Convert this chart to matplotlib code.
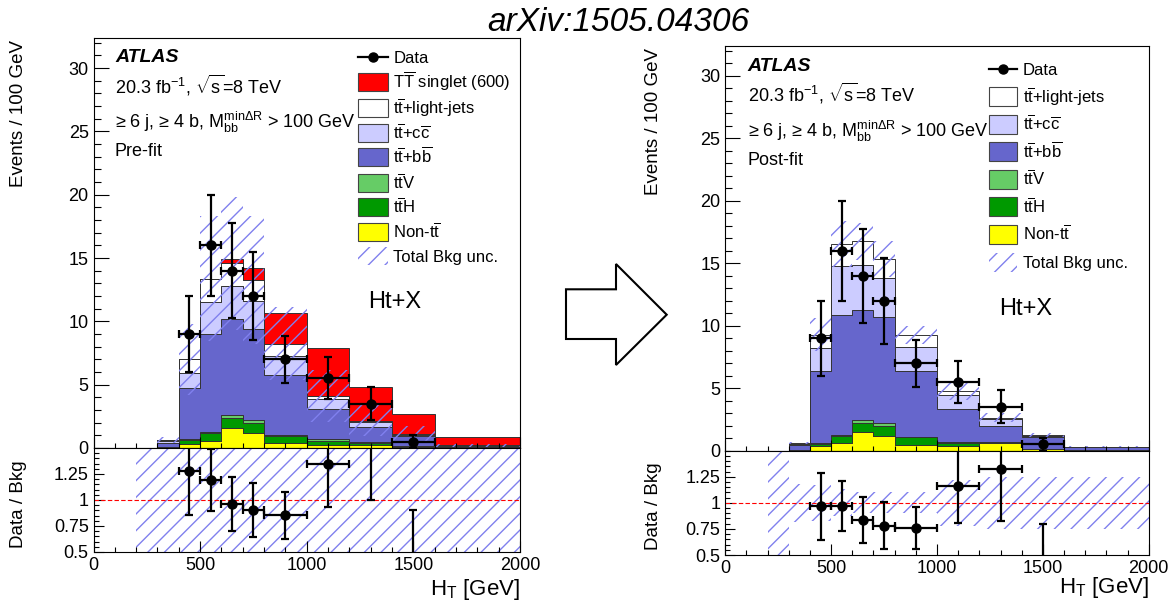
import numpy as np
import matplotlib.pyplot as plt
from matplotlib.patches import Rectangle, Polygon
from matplotlib.lines import Line2D
from matplotlib.ticker import MultipleLocator, FixedLocator, FixedFormatter

plt.rcParams['font.family'] = ['Liberation Sans', 'DejaVu Sans']
plt.rcParams['mathtext.fontset'] = 'custom'
plt.rcParams['mathtext.rm'] = 'Liberation Sans'
plt.rcParams['mathtext.it'] = 'Liberation Sans:italic'
plt.rcParams['mathtext.bf'] = 'Liberation Sans:bold'
plt.rcParams['hatch.linewidth'] = 1.0

W, H = 1168, 606

# H_T bin edges (GeV)
edges = [200, 300, 400, 500, 600, 700, 800, 1000, 1200, 1400, 1600, 1800, 2000]

# pre-fit stack, events / 100 GeV
pre_nontt = [0, 0.02, 0.34, 0.58, 1.59, 1.19, 0.40, 0.27, 0.21, 0.08, 0.02, 0.02]
pre_tth = [0, 0.02, 0.32, 0.61, 0.74, 0.80, 0.53, 0.31, 0.19, 0.05, 0.02, 0.02]
pre_ttv = [0, 0.01, 0.08, 0.08, 0.24, 0.21, 0.13, 0.16, 0.08, 0.02, 0.01, 0.01]
pre_ttbb = [0, 0.37, 3.98, 7.74, 7.63, 7.16, 4.72, 2.31, 1.16, 0.78, 0.12, 0.12]
pre_ttcc = [0, 0.10, 1.19, 2.52, 2.57, 2.24, 1.51, 0.79, 0.43, 0.13, 0.02, 0.02]
pre_ttlight = [0, 0.08, 1.11, 1.85, 1.81, 1.70, 0.93, 0.26, 0.10, 0.05, 0.01, 0.01]
pre_signal = [0, 0, 0, 0, 0.32, 0.88, 2.45, 3.80, 2.65, 1.54, 0.65, 0.65]
pre_unc = [0, 0.4, 0.4, 0.37, 0.36, 0.38, 0.35, 0.5, 0.55, 0.6, 0.6, 0.6]
pre_ratio_unc = [0.6, 0.6, 0.6, 0.6, 0.6, 0.6, 0.6, 0.6, 0.6, 0.6, 0.6, 0.6]

# post-fit stack
post_nontt = [0, 0.05, 0.38, 0.59, 1.53, 1.21, 0.46, 0.38, 0.59, 0.10, 0.03, 0.03]
post_tth = [0, 0.03, 0.13, 0.59, 0.72, 0.77, 0.61, 0.21, 0.08, 0.04, 0.02, 0.02]
post_ttv = [0, 0.01, 0.08, 0.08, 0.22, 0.22, 0.06, 0.13, 0.03, 0.02, 0.01, 0.01]
post_ttbb = [0, 0.37, 5.82, 9.60, 8.79, 8.52, 5.28, 2.63, 1.28, 0.91, 0.21, 0.21]
post_ttcc = [0, 0.10, 1.82, 3.89, 3.64, 3.14, 1.90, 1.07, 0.54, 0.11, 0.03, 0.03]
post_ttlight = [0, 0.08, 1.07, 1.79, 1.86, 1.48, 0.94, 0.33, 0.13, 0.08, 0.02, 0.02]
post_unc = [0, 0.15, 0.14, 0.11, 0.09, 0.095, 0.08, 0.14, 0.14, 0.12, 0.12, 0.12]
post_ratio_unc = [0.6, 0.18, 0.17, 0.13, 0.1, 0.1, 0.1, 0.22, 0.25, 0.25, 0.25, 0.25]

# data
data_x = [450, 550, 650, 750, 900, 1100, 1300, 1500]
data_xerr = [50, 50, 50, 50, 100, 100, 100, 100]
data_y = [9, 16, 14, 12, 7, 5.5, 3.5, 0.5]
data_err = [3.0, 4.0, 3.74, 3.46, 1.87, 1.66, 1.32, 0.5]

bkg_colors = ['#ffff00', '#009900', '#66cc66', '#6666cc', '#ccccff', '#ffffff']
sig_color = '#ff0000'
hatch_col = '#8080ee'

lbl_sig = r'T$\overline{\rm T}$ singlet (600)'
lbl_light = r't$\overline{\rm t}$+light-jets'
lbl_cc = r't$\overline{\rm t}$+c$\overline{\rm c}$'
lbl_bb = r't$\overline{\rm t}$+b$\overline{\rm b}$'
lbl_ttv = r't$\overline{\rm t}$V'
lbl_tth = r't$\overline{\rm t}$H'
lbl_nontt = r'Non-t$\overline{\rm t}$'


def fx(px):
    return px / W


def fy(py):
    return 1 - py / H


def px_axes(fig, x0, x1, top, bottom):
    return fig.add_axes([fx(x0), fy(bottom), (x1 - x0) / W, (bottom - top) / H])


def style_axes(ax, ratio=False):
    ax.set_xlim(0, 2000)
    ax.xaxis.set_major_locator(MultipleLocator(500))
    ax.xaxis.set_minor_locator(MultipleLocator(100))
    ax.tick_params(which='both', direction='in', top=False, right=False,
                   labelsize=13, pad=3.5, width=0.8)
    ax.tick_params(axis='x', which='major', length=8)
    ax.tick_params(axis='x', which='minor', length=3.6)
    for sp in ax.spines.values():
        sp.set_linewidth(0.8)
    if ratio:
        ax.set_ylim(0.5, 1.5)
        ax.yaxis.set_major_locator(FixedLocator([0.5, 0.75, 1, 1.25]))
        ax.yaxis.set_major_formatter(FixedFormatter(['0.5', '0.75', '1', '1.25']))
        ax.yaxis.set_minor_locator(MultipleLocator(0.05))
        ax.tick_params(axis='y', which='major', length=7)
        ax.tick_params(axis='y', which='minor', length=3.6)
    else:
        ax.set_ylim(0, 32.4)
        ax.yaxis.set_major_locator(MultipleLocator(5))
        ax.yaxis.set_minor_locator(MultipleLocator(1))
        ax.tick_params(axis='y', which='major', length=10.8)
        ax.tick_params(axis='y', which='minor', length=5)
        ax.tick_params(axis='x', labelbottom=False)


def draw_panel(fig, box, comps, signal, unc, ratio_unc):
    x0, x1, top, mid, bottom = box
    ax = px_axes(fig, x0, x1, top, mid)
    axr = px_axes(fig, x0, x1, mid, bottom)

    base = np.zeros(len(edges) - 1)
    for vals, col in zip(comps, bkg_colors):
        ax.stairs(base + np.array(vals), edges, baseline=base.copy(), fill=True,
                  facecolor=col, edgecolor='#333333', linewidth=0.7, zorder=1)
        base = base + np.array(vals)
    bkg = base.copy()
    if signal is not None:
        ax.stairs(bkg + np.array(signal), edges, baseline=bkg.copy(), fill=True,
                  facecolor=sig_color, edgecolor='#333333', linewidth=0.7, zorder=1)

    rel = np.array(unc)
    ax.stairs(bkg * (1 + rel), edges, baseline=bkg * (1 - rel), fill=True,
              facecolor='none', edgecolor=hatch_col, hatch='//', linewidth=0, zorder=1.5)

    ax.errorbar(data_x, data_y, yerr=data_err, xerr=data_xerr, fmt='o', color='black',
                ms=6.5, elinewidth=1.6, capsize=3, capthick=1.6, zorder=5)

    # ratio panel
    rr = np.array(ratio_unc)
    axr.stairs(1 + rr, edges, baseline=1 - rr, fill=True, facecolor='none',
               edgecolor=hatch_col, hatch='//', linewidth=0, zorder=1.5)
    axr.axhline(1, color='red', lw=0.8, ls=(0, (4, 2)), zorder=2)
    idx = np.searchsorted(edges, data_x) - 1
    ratio = np.array(data_y) / bkg[idx]
    ratio_err = np.array(data_err) / bkg[idx]
    axr.errorbar(data_x, ratio, yerr=ratio_err, xerr=data_xerr, fmt='o', color='black',
                 ms=6.5, elinewidth=1.6, capsize=3, capthick=1.6, zorder=5)

    style_axes(ax)
    style_axes(axr, ratio=True)
    return ax, axr


def draw_legend(fig, entries, bx0, bx1, tx, rows, bh):
    for (kind, col, label), yc in zip(entries, rows):
        if kind == 'data':
            fig.add_artist(Line2D([fx(bx0), fx(bx1)], [fy(yc), fy(yc)], color='black', lw=1.6,
                                  transform=fig.transFigure))
            fig.add_artist(Line2D([fx((bx0 + bx1) / 2)], [fy(yc)], marker='o', ms=6.5,
                                  color='black', transform=fig.transFigure))
        elif kind == 'fill':
            fig.add_artist(Rectangle((fx(bx0), fy(yc + bh / 2)), (bx1 - bx0) / W, bh / H,
                                     facecolor=col, edgecolor='#444444', lw=0.8,
                                     transform=fig.transFigure))
        else:
            fig.add_artist(Rectangle((fx(bx0), fy(yc + bh / 2)), (bx1 - bx0) / W, bh / H,
                                     facecolor='none', edgecolor=hatch_col, hatch='//', lw=0,
                                     transform=fig.transFigure))
        fig.text(fx(tx), fy(yc + 6), label, fontsize=12, va='baseline', ha='left')


def panel_texts(fig, x, ys, fit_label, htx, hty):
    fig.text(fx(x), fy(ys[0]), 'ATLAS', fontsize=14, fontweight='bold', style='italic',
             va='baseline')
    fig.text(fx(x), fy(ys[1]), r'20.3 fb$^{-1}$, $\sqrt{\rm s}$=8 TeV', fontsize=13,
             va='baseline')
    fig.text(fx(x), fy(ys[2]), r'≥ 6 j, ≥ 4 b, M$_{\rm bb}^{\rm min\Delta R}$ > 100 GeV',
             fontsize=13, va='baseline')
    fig.text(fx(x), fy(ys[3]), fit_label, fontsize=13, va='baseline')
    fig.text(fx(htx), fy(hty), 'Ht+X', fontsize=17, va='baseline')


fig = plt.figure(figsize=(W / 100, H / 100), dpi=100)

pre_comps = [pre_nontt, pre_tth, pre_ttv, pre_ttbb, pre_ttcc, pre_ttlight]
post_comps = [post_nontt, post_tth, post_ttv, post_ttbb, post_ttcc, post_ttlight]

draw_panel(fig, (93.5, 520, 37.7, 448, 552), pre_comps, pre_signal, pre_unc, pre_ratio_unc)
draw_panel(fig, (725.3, 1148.7, 46, 450.7, 555), post_comps, None, post_unc, post_ratio_unc)

# axis titles
for x, ytop, ymid, xr, yh in [(19, 40, 504, 520, 590), (653, 48, 506, 1148.7, 588)]:
    fig.text(fx(x), fy(ytop), 'Events / 100 GeV', rotation=90, fontsize=13.5,
             ha='center', va='top')
    fig.text(fx(x), fy(ymid), 'Data / Bkg', rotation=90, fontsize=13.5,
             ha='center', va='center')
    fig.text(fx(xr), fy(yh), r'H$_{\rm T}$ [GeV]', fontsize=16, ha='right', va='center')

panel_texts(fig, 115, [61.7, 93.3, 128, 156], 'Pre-fit', 368.5, 308)
panel_texts(fig, 747.6, [71, 101.5, 136.5, 165], 'Post-fit', 999, 315)

pre_entries = [('data', None, 'Data'), ('fill', sig_color, lbl_sig),
               ('fill', bkg_colors[5], lbl_light), ('fill', bkg_colors[4], lbl_cc),
               ('fill', bkg_colors[3], lbl_bb), ('fill', bkg_colors[2], lbl_ttv),
               ('fill', bkg_colors[1], lbl_tth), ('fill', bkg_colors[0], lbl_nontt),
               ('hatch', None, 'Total Bkg unc.')]
draw_legend(fig, pre_entries, 358.3, 388.3, 393.3,
            [57.3, 82.3, 108.3, 133.3, 157.3, 182.7, 206.7, 231.7, 256], 18)

post_entries = [e for e in pre_entries if e[2] != lbl_sig]
draw_legend(fig, post_entries, 988.7, 1016.7, 1022.6,
            [69, 96.7, 124, 151.7, 179, 206.7, 234, 262.3], 19)

# arrow between the two panels
arrow_px = [(566, 289.3), (616, 289.3), (616, 264), (666.7, 314.7), (616, 365),
            (616, 339), (566, 339)]
fig.add_artist(Polygon([(fx(a), fy(b)) for a, b in arrow_px], closed=True, fill=False,
                       edgecolor='black', lw=1.5, transform=fig.transFigure))

fig.text(fx(618), fy(31), 'arXiv:1505.04306', fontsize=24, style='italic',
         ha='center', va='baseline')

fig.savefig('out.png', dpi=100)
